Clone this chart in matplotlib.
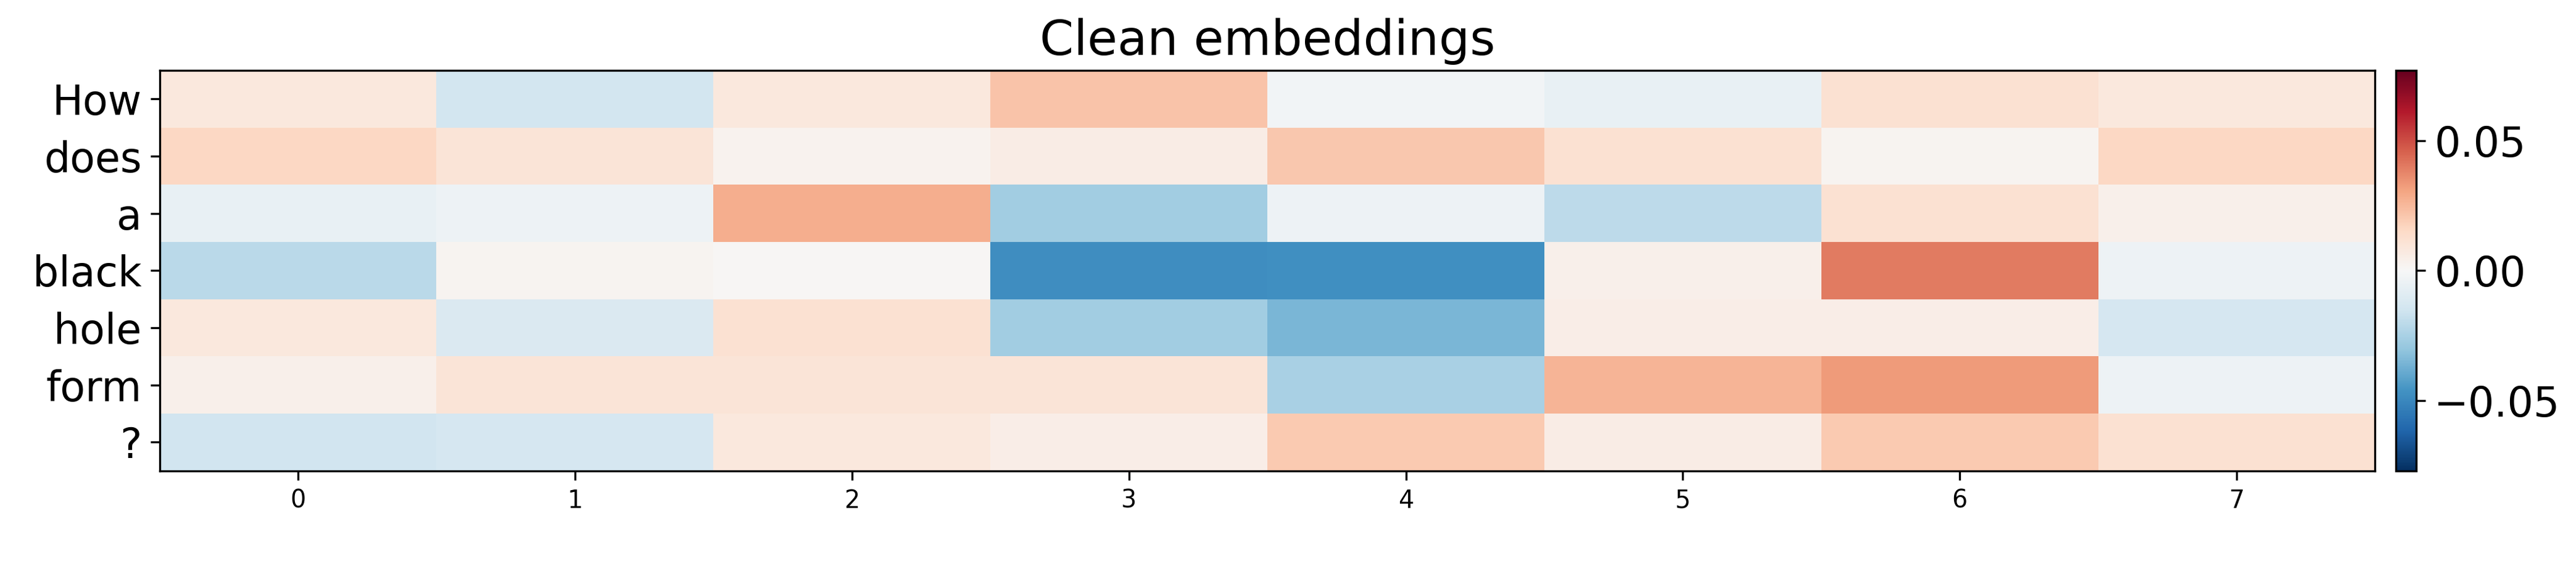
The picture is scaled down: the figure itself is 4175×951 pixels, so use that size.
import matplotlib
matplotlib.use("Agg")
import matplotlib.pyplot as plt
import numpy as np

tokens = ["How", "does", "a", "black", "hole", "form", "?"]
dims = list(range(8))
values = np.array([
    [0.008, -0.014, 0.008, 0.022, -0.002, -0.006, 0.012, 0.008],
    [0.016, 0.010, 0.003, 0.006, 0.021, 0.012, 0.002, 0.016],
    [-0.006, -0.004, 0.028, -0.027, -0.004, -0.020, 0.012, 0.004],
    [-0.021, 0.002, 0.001, -0.048, -0.047, 0.004, 0.040, -0.004],
    [0.008, -0.011, 0.012, -0.027, -0.035, 0.005, 0.005, -0.013],
    [0.004, 0.010, 0.010, 0.010, -0.025, 0.026, 0.033, -0.004],
    [-0.015, -0.013, 0.008, 0.005, 0.020, 0.006, 0.020, 0.012],
])
vlim = 0.077

fig = plt.figure(figsize=(13.917, 3.17), dpi=300)
ax = fig.add_axes([0.062, 0.198, 0.860, 0.682])
cax = fig.add_axes([0.930, 0.198, 0.008, 0.682])
im = ax.imshow(values, cmap="RdBu_r", vmin=-vlim, vmax=vlim, aspect="auto")
ax.set_yticks(range(len(tokens)))
ax.set_yticklabels(tokens, fontsize=16)
ax.set_xticks(dims)
ax.tick_params(axis="x", labelsize=9.5)
ax.set_title("Clean embeddings", fontsize=19)
cb = fig.colorbar(im, cax=cax)
cb.set_ticks([-0.05, 0.0, 0.05])
cb.ax.tick_params(labelsize=16)
fig.savefig("out.png", dpi=300)
